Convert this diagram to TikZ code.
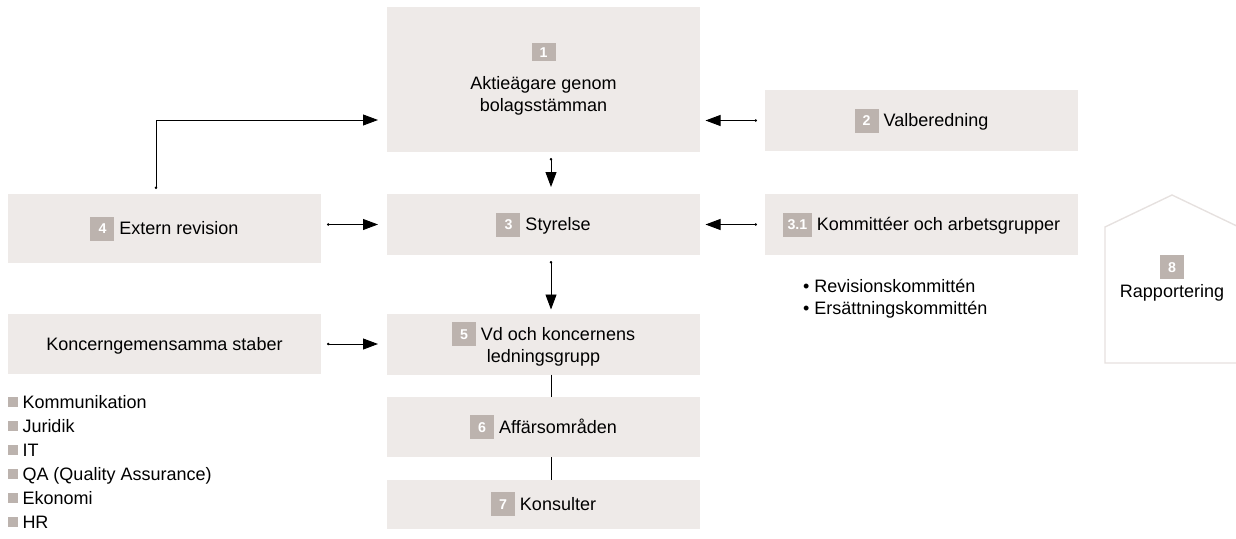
\documentclass[tikz,border=0pt]{standalone}
\usepackage{fontspec}
\setmainfont{Liberation Sans}
\usetikzlibrary{arrows.meta,calc}
\definecolor{boxc}{HTML}{EEEAE8}
\definecolor{badgec}{HTML}{BCB3AE}
\definecolor{housec}{HTML}{E6E1DF}
% badge: width, height, text
\newcommand{\bdgbox}[3]{{\setlength{\fboxsep}{0pt}\raisebox{\dimexpr 6.45pt-#2/2\relax}{\colorbox{badgec}{\makebox[#1]{\rule{0pt}{#2}\raisebox{\dimexpr #2/2-5.1pt\relax}{\color{white}\fontsize{14.2}{14.2}\selectfont\bfseries #3}}}}}}
\newcommand{\bdg}[1]{\bdgbox{24pt}{24pt}{#1}}
\newcommand{\bstrut}{\rule[-5.55pt]{0pt}{24pt}}
\newcommand{\sq}{\textcolor{badgec}{\raisebox{1.5pt}{\rule{9.5pt}{9.5pt}}}\hspace{5pt}}
\begin{document}
\begin{tikzpicture}[x=1pt,y=-1pt,
  every node/.style={inner sep=0pt,outer sep=0pt,font=\fontsize{18}{22}\selectfont},
  box/.style={fill=boxc,minimum width=313pt,align=center},
  arr/.style={line width=0.9pt,{Circle[length=2.4pt]}-{Triangle[length=15pt,width=11pt]}},
  ln/.style={line width=0.9pt},
  txt/.style={anchor=base west,align=left}]
\useasboundingbox (0,0) rectangle (1236,538);
% boxes
\node[box,minimum height=145pt] (n1) at (543.5,79.5) {\bdgbox{24pt}{18pt}{1}\\[9pt]Aktieägare genom\\bolagsstämman};
\node[box,minimum height=61pt] (n2) at (921.5,120.5) {\bdg{2} Valberedning};
\node[box,minimum height=61pt] (n3) at (543.5,224.5) {\bdg{3} Styrelse};
\node[box,minimum height=61pt] (n31) at (921.5,224.5) {\bdgbox{29pt}{24pt}{3.1} Kommittéer och arbetsgrupper};
\node[box,minimum height=69pt] (n4) at (164.5,228.5) {\bdg{4} Extern revision};
\node[box,minimum height=60pt] (nk) at (164.5,344) {\bstrut Koncerngemensamma staber};
\node[box,minimum height=61pt] (n5) at (543.5,344) {\bdg{5} Vd och koncernens\\ledningsgrupp};
\node[box,minimum height=60pt] (n6) at (543.5,427) {\bdg{6} Affärsområden};
\node[box,minimum height=49pt] (n7) at (543.5,504) {\bdg{7} Konsulter};
% house
\draw[housec,line width=1.4pt] (1105,363) -- (1105,227) -- (1172,195) -- (1241,228) -- (1241,363) -- cycle;
\node[align=center] (n8) at (1172,278) {\bdg{8}\\[1.5pt]Rapportering};
% lists
\node[txt] (l31) at (803,314) {\textbullet\ Revisionskommittén\\\textbullet\ Ersättningskommittén};
\node[txt,font=\fontsize{18}{24}\selectfont] (lk) at (8,528) {\sq Kommunikation\\\sq Juridik\\\sq IT\\\sq QA (Quality Assurance)\\\sq Ekonomi\\\sq HR};
% connectors
\draw[arr,shorten <=6pt,shorten >=7pt] ([xshift=7.5pt]n1.south) -- ([xshift=7.5pt]n3.north);
\draw[arr,shorten <=6pt,shorten >=4pt] ([xshift=7.5pt]n3.south) -- ([xshift=7.5pt]n5.north);
\draw[ln] ([xshift=7.5pt]n5.south) -- ([xshift=7.5pt]n6.north);
\draw[ln] ([xshift=7.5pt]n6.south) -- ([xshift=7.5pt]n7.north);
\draw[arr,shorten <=6pt,shorten >=9pt] (n4.east |- n3.west) -- (n3.west);
\draw[arr,shorten <=6pt,shorten >=9pt] (nk) -- (n5);
\draw[arr,shorten <=8pt,shorten >=5.5pt] (n2.west) -- (n2.west -| n1.east);
\draw[arr,shorten <=8pt,shorten >=5.5pt] (n31.west) -- (n31.west -| n3.east);
\draw[arr,shorten <=5pt,shorten >=9pt] ([xshift=-8.5pt]n4.north) |- ([yshift=-40.5pt]n1.west);
\end{tikzpicture}
\end{document}
